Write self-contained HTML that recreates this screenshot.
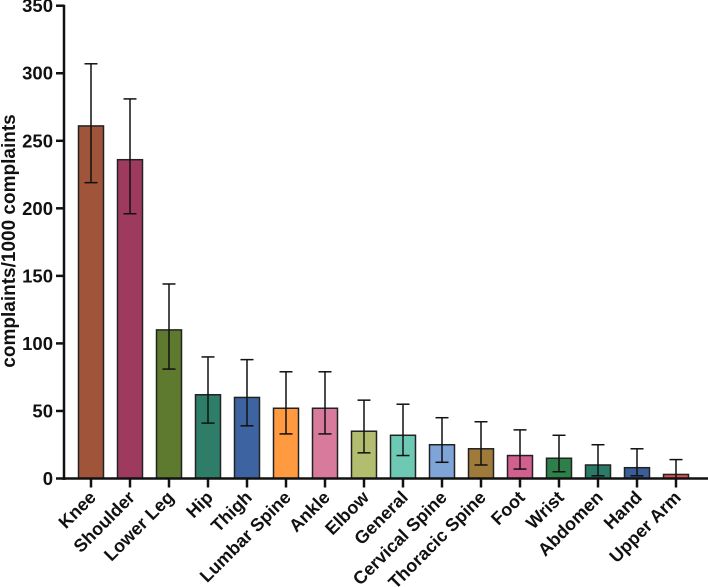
<!DOCTYPE html>
<html><head><meta charset="utf-8"><style>
html,body{margin:0;padding:0;background:#fff;}
svg{display:block;font-family:"Liberation Sans",Arial,sans-serif;font-weight:bold;}
</style></head><body>
<svg id="chart" width="708" height="587" viewBox="0 0 708 587"></svg>
<script>
const categories=["Knee","Shoulder","Lower Leg","Hip","Thigh","Lumbar Spine","Ankle","Elbow","General","Cervical Spine","Thoracic Spine","Foot","Wrist","Abdomen","Hand","Upper Arm"];
const values=[261,236,110,62,60,52,52,35,32,25,22,17,15,10,8,3];
const errLow=[219,196,81,41,39,33,33,19,17,12,10,7,5,2,2,0];
const errHigh=[307,281,144,90,88,79,79,58,55,45,42,36,32,25,22,14];
const colors=["#a0553b","#9e3a5e","#5e7a2e","#2e7d68","#3d64a0","#ff9a40","#d87a9c","#b3bd70","#6dc9b4","#7fa4d8","#a07a3a","#d2608f","#2d8049","#2a7a68","#3b5e9a","#e05050"];
const yTicks=[0,50,100,150,200,250,300,350];
const svg=document.getElementById('chart');
const NS="http://www.w3.org/2000/svg";
const x0=64,yBase=478.5,yTop=5.7,yMax=350,step=39,c0=91,bw=25;
const y=v=>yBase-(v/yMax)*(yBase-yTop);
const x=i=>c0+i*step;
function mk(tag,attrs,parent){const e=document.createElementNS(NS,tag);for(const k in attrs)e.setAttribute(k,attrs[k]);(parent||svg).appendChild(e);return e;}
categories.forEach((c,i)=>{
  const b=mk('rect',{x:x(i)-bw/2,y:y(values[i]),width:bw,height:yBase-y(values[i]),fill:colors[i],stroke:"#222","stroke-width":1.5});
  
  
  const g=mk('g',{stroke:"#111","stroke-width":1.5});
  
  
  mk('line',{x1:x(i),x2:x(i),y1:y(errLow[i]),y2:y(errHigh[i])},g);
  mk('line',{x1:x(i)-6.5,x2:x(i)+6.5,y1:y(errLow[i]),y2:y(errLow[i])},g);
  mk('line',{x1:x(i)-6.5,x2:x(i)+6.5,y1:y(errHigh[i]),y2:y(errHigh[i])},g);
  const t=mk('line',{x1:x(i),x2:x(i),y1:yBase,y2:yBase+9,stroke:"#111","stroke-width":2.5});
  
  
  const lx=x(i)+6,ly=yBase+20;
  const l=mk('text',{x:lx,y:ly,"text-anchor":"end","font-size":"18",fill:"#111",transform:`rotate(-45 ${lx} ${ly})`});
  l.textContent=c;
  
  
});
const ya=mk('line',{x1:x0,x2:x0,y1:yTop-1,y2:yBase+1.5,stroke:"#111","stroke-width":2.5});


const xa=mk('line',{x1:x0-1,x2:708,y1:yBase,y2:yBase,stroke:"#111","stroke-width":2.5});


yTicks.forEach(v=>{
  const t=mk('line',{x1:x0-8,x2:x0,y1:y(v),y2:y(v),stroke:"#111","stroke-width":2.5});
  
  
  const l=mk('text',{x:x0-11,y:y(v)+6.5,"text-anchor":"end","font-size":"18.5",fill:"#111"});
  l.textContent=v;
  
  
});
const yt=mk('text',{x:15,y:241,"text-anchor":"middle","font-size":"19",fill:"#111",transform:"rotate(-90 15 241)"});
yt.textContent="complaints/1000 complaints";


</script>
</body></html>
